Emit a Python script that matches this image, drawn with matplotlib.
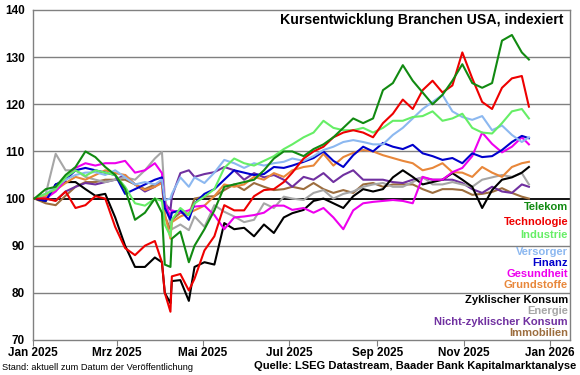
import matplotlib
matplotlib.use("Agg")
import matplotlib.pyplot as plt
import pandas as pd

plt.rcParams['font.family'] = ['Liberation Sans', 'DejaVu Sans']

# Stichtage (ungefaehr woechentlich, mit Zusatzpunkten im April)
dates = ['2025-01-02', '2025-01-10', '2025-01-17', '2025-01-24', '2025-01-31',
         '2025-02-07', '2025-02-14', '2025-02-21', '2025-02-28', '2025-03-07',
         '2025-03-14', '2025-03-21', '2025-03-28', '2025-04-02', '2025-04-04',
         '2025-04-08', '2025-04-09', '2025-04-15', '2025-04-21', '2025-04-25',
         '2025-05-02', '2025-05-09', '2025-05-16', '2025-05-23', '2025-05-30',
         '2025-06-06', '2025-06-13', '2025-06-20', '2025-06-27', '2025-07-03',
         '2025-07-11', '2025-07-18', '2025-07-25', '2025-08-01', '2025-08-08',
         '2025-08-15', '2025-08-22', '2025-08-29', '2025-09-05', '2025-09-12',
         '2025-09-19', '2025-09-26', '2025-10-03', '2025-10-10', '2025-10-17',
         '2025-10-24', '2025-10-31', '2025-11-07', '2025-11-14', '2025-11-21',
         '2025-11-28', '2025-12-05', '2025-12-12', '2025-12-17']

telekom = [100, 102, 102.5, 105, 106.7, 110, 108.8, 106.7, 105, 102,
           95.5, 97, 100, 97, 86, 85.5, 91.5, 93, 86.5, 90,
           93.5, 97.5, 102.5, 103, 103.5, 104, 106, 108.5, 110, 110,
           109, 110.5, 111.5, 113, 115, 117, 116, 117, 123, 124.5,
           128.3, 125, 122.5, 120, 122, 125, 128.5, 124.5, 123.5, 124.5,
           133.5, 134.7, 131, 129.5]
technologie = [100, 100, 99.5, 101.5, 98, 98.6, 100.5, 100, 94, 89.5,
               88, 90, 91, 86.5, 80, 76, 83.5, 84, 80.5, 83,
               89, 92, 98.6, 97.5, 97.5, 100.5, 101.8, 102, 103.5, 105.5,
               108.5, 110, 111, 113, 114, 114.5, 114, 113, 116, 118,
               121, 119, 123, 125, 122.5, 124, 131, 125.5, 120.5, 119,
               123.5, 125.5, 126, 119.5]
industrie = [100, 101, 102, 104.5, 106, 104.8, 106, 105.5, 105, 102.5,
             99, 98.5, 100, 99.5, 94.5, 92, 95.5, 98, 96.5, 99,
             100.4, 102, 106.5, 108.5, 107.5, 107, 108, 109, 110.5, 111.5,
             113, 114, 116.5, 115, 114.5, 114.5, 115, 114, 115, 116.5,
             116.5, 117.3, 117.5, 118.5, 116.5, 117, 118, 115, 114, 113.8,
             116, 118.5, 119, 117]
versorger = [100, 101, 102.5, 104, 105, 105.5, 105.6, 105, 106, 104.5,
             103, 103.5, 103, 104, 99.7, 100, 101, 104.5, 102.5, 104.5,
             103.3, 105.5, 108.2, 107.5, 106.5, 107.5, 107, 107.5, 107.8, 108.5,
             108, 109, 110.3, 111, 112, 112.4, 112, 111.5, 111.5, 113.5,
             115, 117, 119, 120.5, 122, 118.5, 117.3, 116.7, 117.5, 114.5,
             115.5, 113.5, 112, 113]
finanz = [100, 99.5, 103, 104, 106, 106.5, 106, 105.5, 105, 101,
          102, 103, 104, 104.5, 98, 95.5, 97, 97.5, 95.5, 99,
          101, 102, 104, 106, 105.5, 105, 105.2, 106.7, 106.5, 107,
          107.8, 108.6, 110, 108, 106.7, 109.2, 111, 110, 111.8, 111,
          110.5, 111.4, 109.6, 109, 108.2, 108.6, 107.5, 109.6, 108.8, 109,
          110.3, 112, 113.3, 112.8]
gesundheit = [100, 100, 101.5, 104, 106.5, 107.5, 107, 107.5, 107.5, 108,
              105.5, 106, 107.5, 105.4, 99, 96.2, 97.5, 97, 97.5, 98.3,
              98.5, 96.5, 93.5, 96, 96.2, 96.5, 97, 98.5, 98.5, 97.6,
              98, 97, 98, 96, 93.5, 97.5, 99, 99.3, 99.5, 99.7,
              99.5, 99, 104.6, 104, 104, 105.6, 106.5, 109, 114, 111.6,
              109.8, 111, 113, 111.5]
grundstoffe = [100, 100.5, 101.8, 103.3, 104.6, 104, 105, 106, 105.4, 105,
               103, 101.8, 102.5, 103.3, 96.9, 91.5, 95, 96.2, 96.9, 97.5,
               98.5, 100.5, 103, 102.5, 103, 104.6, 104, 105.4, 104.6, 106,
               106.7, 107, 109.5, 107, 108.8, 109.7, 110.3, 110, 109.2, 108.6,
               108, 107.5, 106, 106.5, 107.5, 105.6, 105.5, 104.6, 106.7, 105.5,
               104.6, 106.7, 107.5, 107.8]
zyklisch = [100, 99.5, 103, 103.5, 103.5, 102, 100.6, 101, 96, 90,
            85.5, 85.5, 87.5, 86.5, 80, 77.8, 82.5, 82.7, 78.3, 85.5,
            86.5, 86, 94.8, 93.5, 93.8, 92, 94.5, 92.7, 96, 96.9,
            97.6, 99.5, 100, 99, 98, 100.5, 102, 101.5, 102, 104.5,
            106, 104.6, 103, 103.5, 104, 105.4, 104, 102.5, 98, 101.8,
            104, 104.5, 105.5, 106.7]
energie = [100, 101, 109.5, 106, 106, 104.6, 104, 103.5, 104, 104.5,
           104, 106, 108.5, 109.9, 100.3, 94.5, 93.5, 94.5, 93.3, 96.2,
           94, 98.6, 97.2, 96.2, 95, 95.5, 99, 98, 100.4, 100,
           99.7, 101.2, 101.8, 100, 101, 101.5, 102.5, 103, 103.3, 102.5,
           102.5, 103.5, 104.6, 103, 103, 103.5, 103, 102.5, 104, 104.5,
           105, 104.6, 105.4, 103]
nicht_zyklisch = [100, 100, 99.6, 101.5, 102.5, 103.3, 103, 103.5, 104, 105,
                  103, 101.5, 102.5, 104, 99, 97.6, 100.4, 105.4, 106, 104.6,
                  105.2, 105.6, 106.7, 106, 104, 105.4, 104.5, 105, 104, 102.5,
                  104.6, 104, 105.4, 103.5, 105, 106, 104, 104, 104, 103.5,
                  103.3, 104, 104.4, 104, 104, 104, 103.3, 102, 101.2, 102.5,
                  101.5, 101.2, 103, 102.5]
immobilien = [100, 99, 98.6, 100.6, 102.5, 103.5, 103.5, 104, 104, 104,
              103, 102, 103, 103.3, 96.2, 93.5, 95.5, 97, 96.5, 100,
              100.4, 100.5, 101.8, 103, 101.8, 103.3, 102.5, 101.8, 102, 102.5,
              102, 103.3, 102, 101.2, 101.8, 101.2, 103, 103.3, 102.5, 103,
              103, 103, 102, 101.2, 102, 102, 101.8, 100.8, 101, 101.4,
              102.2, 101.2, 100.4, 100]

names = ['Telekom', 'Technologie', 'Industrie', 'Versorger', 'Finanz', 'Gesundheit',
         'Grundstoffe', 'Zyklischer Konsum', 'Energie', 'Nicht-zyklischer Konsum', 'Immobilien']
series = [telekom, technologie, industrie, versorger, finanz, gesundheit,
          grundstoffe, zyklisch, energie, nicht_zyklisch, immobilien]
colors = ['#118a11', '#ee0000', '#66ee66', '#8cb8f0', '#0000cc', '#ee00ee',
          '#e8873a', '#000000', '#a6a6a6', '#7030a0', '#9c6d3e']
label_y = [207, 222, 235, 252, 263, 274, 285, 300, 311, 322, 333]

x = pd.to_datetime(dates)

fig = plt.figure(figsize=(5.8, 3.75), dpi=100)
ax = fig.add_axes([33 / 580, 35 / 375, 537 / 580, 330 / 375])

for yv in [80, 90, 110, 120, 130]:
    ax.axhline(yv, color='#808080', lw=1.0, zorder=1)
ax.axhline(100, color='black', lw=1.3, zorder=2)

# Telekom zuletzt zeichnen, damit es oben liegt
for i in range(len(series) - 1, -1, -1):
    ax.plot(x, series[i], color=colors[i], lw=1.5, zorder=3)

ax.set_xlim(pd.Timestamp('2025-01-01'), pd.Timestamp('2026-01-15'))
ax.set_ylim(70, 140)
ax.set_yticks([70, 80, 90, 100, 110, 120, 130, 140])

ticks = pd.to_datetime(['2025-01-01', '2025-03-01', '2025-05-01', '2025-07-01',
                        '2025-09-01', '2025-11-01', '2026-01-01'])
tick_labels = ['Jan 2025', 'Mrz 2025', 'Mai 2025', 'Jul 2025', 'Sep 2025',
               'Nov 2025', 'Jan 2026']
ax.set_xticks(ticks)
ax.set_xticklabels(tick_labels)

for lab in ax.get_xticklabels() + ax.get_yticklabels():
    lab.set_fontweight('bold')
    lab.set_fontsize(8.5)
ax.tick_params(axis='y', length=0, pad=6)
ax.tick_params(axis='x', length=4, color='#808080', pad=1)

for sp in ax.spines.values():
    sp.set_color('#808080')
    sp.set_linewidth(1.0)

fig.text(563 / 580, 1 - 20 / 375, 'Kursentwicklung Branchen USA, indexiert',
         ha='right', va='center', fontsize=10.2, fontweight='bold')

for name, col, ly in zip(names, colors, label_y):
    fig.text(568 / 580, 1 - ly / 375, name, ha='right', va='center',
             fontsize=8, fontweight='bold', color=col)

fig.text(2 / 580, 1 - 367 / 375, 'Stand: aktuell zum Datum der Veröffentlichung',
         ha='left', va='center', fontsize=6.7)
fig.text(576 / 580, 1 - 366 / 375, 'Quelle: LSEG Datastream, Baader Bank Kapitalmarktanalyse',
         ha='right', va='center', fontsize=8, fontweight='bold')

fig.savefig('out.png', dpi=100)
